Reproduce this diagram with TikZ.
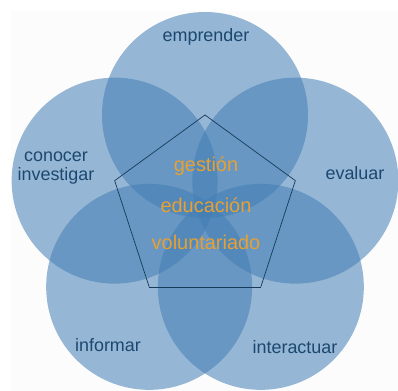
\documentclass[tikz,border=0pt]{standalone}
\usepackage{fontspec}
\setmainfont{Liberation Sans}
\definecolor{ringblue}{RGB}{66,126,180}
\definecolor{labelblue}{RGB}{28,72,112}
\definecolor{coreorange}{RGB}{232,160,50}
\definecolor{paper}{RGB}{252,252,252}
\begin{document}
\begin{tikzpicture}[x=1bp,y=1bp]
        \useasboundingbox (0,0) rectangle (398,391);
        \clip (0,0) rectangle (398,391);
        \fill[paper] (11,0) rectangle (398,380);

        \begin{scope}[shift={(205,181)}]
            \node[circle,fill=ringblue,fill opacity=0.55,minimum size=206bp,inner sep=0] (1) at (90:95) {};
            \node[circle,fill=ringblue,fill opacity=0.55,minimum size=206bp,inner sep=0] (2) at (162:95) {};
            \node[circle,fill=ringblue,fill opacity=0.55,minimum size=206bp,inner sep=0] (3) at (234:95) {};
            \node[circle,fill=ringblue,fill opacity=0.55,minimum size=206bp,inner sep=0] (4) at (306:95) {};
            \node[circle,fill=ringblue,fill opacity=0.55,minimum size=206bp,inner sep=0] (5) at (18:95) {};
        \end{scope}

        \foreach \from / \to in {1/2,2/3,3/4,4/5,5/1}
            \draw[labelblue!80!black,line width=0.7bp] (\from.center) -- (\to.center);

        \node[text=labelblue,font=\fontsize{18}{20}\selectfont] (emprender) at (206,354) {emprender};
        \node[text=labelblue,font=\fontsize{18}{20}\selectfont,align=center] (conocer) at (56,223) {conocer\\investigar};
        \node[text=labelblue,font=\fontsize{18}{20}\selectfont] (evaluar) at (355,218) {evaluar};
        \node[text=labelblue,font=\fontsize{18}{20}\selectfont] (informar) at (108,46) {informar};
        \node[text=labelblue,font=\fontsize{18}{20}\selectfont] (interactuar) at (295,44) {interactuar};

        \node[text=coreorange,font=\fontsize{20}{22}\selectfont] (gestion) at (206,225) {gestión};
        \node[text=coreorange,font=\fontsize{20}{22}\selectfont] (educacion) at (206,186) {educación};
        \node[text=coreorange,font=\fontsize{20}{22}\selectfont] (voluntariado) at (206,149) {voluntariado};
    \end{tikzpicture}
\end{document}
